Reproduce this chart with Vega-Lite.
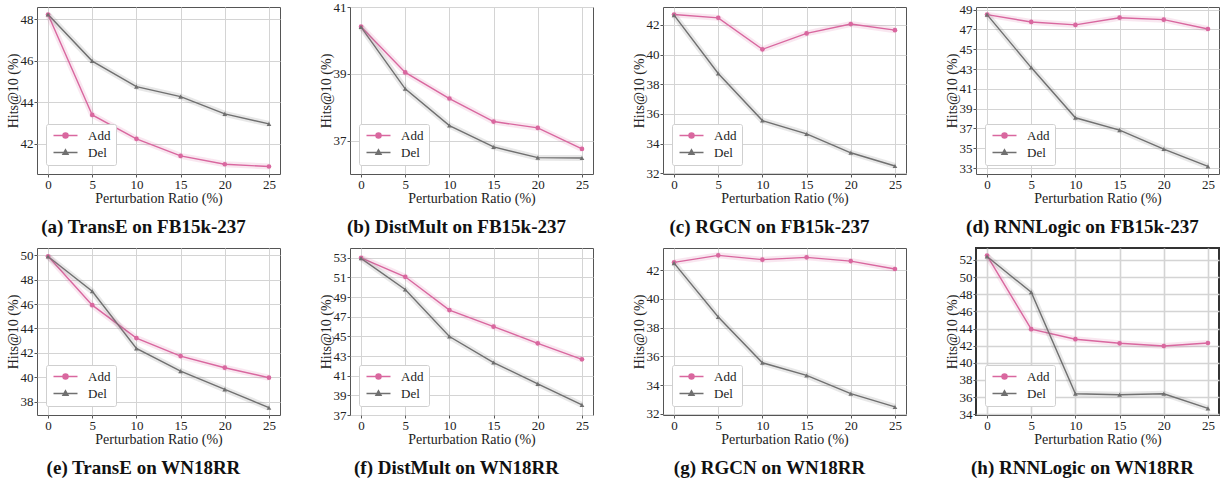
{
  "$schema": "https://vega.github.io/schema/vega-lite/v6.json",
  "padding": {"left": 5, "top": 0, "right": 1, "bottom": 0},
  "data": {"values": [
    {"p":"a","s":"Add","r":0,"v":48.22},{"p":"a","s":"Add","r":5,"v":43.39},{"p":"a","s":"Add","r":10,"v":42.24},{"p":"a","s":"Add","r":15,"v":41.42},{"p":"a","s":"Add","r":20,"v":41.02},{"p":"a","s":"Add","r":25,"v":40.91},
    {"p":"a","s":"Del","r":0,"v":48.22},{"p":"a","s":"Del","r":5,"v":45.98},{"p":"a","s":"Del","r":10,"v":44.75},{"p":"a","s":"Del","r":15,"v":44.27},{"p":"a","s":"Del","r":20,"v":43.44},{"p":"a","s":"Del","r":25,"v":42.96},
    {"p":"b","s":"Add","r":0,"v":40.41},{"p":"b","s":"Add","r":5,"v":39.04},{"p":"b","s":"Add","r":10,"v":38.26},{"p":"b","s":"Add","r":15,"v":37.57},{"p":"b","s":"Add","r":20,"v":37.38},{"p":"b","s":"Add","r":25,"v":36.75},
    {"p":"b","s":"Del","r":0,"v":40.40},{"p":"b","s":"Del","r":5,"v":38.55},{"p":"b","s":"Del","r":10,"v":37.45},{"p":"b","s":"Del","r":15,"v":36.81},{"p":"b","s":"Del","r":20,"v":36.49},{"p":"b","s":"Del","r":25,"v":36.48},
    {"p":"c","s":"Add","r":0,"v":42.69},{"p":"c","s":"Add","r":5,"v":42.47},{"p":"c","s":"Add","r":10,"v":40.35},{"p":"c","s":"Add","r":15,"v":41.42},{"p":"c","s":"Add","r":20,"v":42.05},{"p":"c","s":"Add","r":25,"v":41.64},
    {"p":"c","s":"Del","r":0,"v":42.65},{"p":"c","s":"Del","r":5,"v":38.72},{"p":"c","s":"Del","r":10,"v":35.55},{"p":"c","s":"Del","r":15,"v":34.65},{"p":"c","s":"Del","r":20,"v":33.38},{"p":"c","s":"Del","r":25,"v":32.49},
    {"p":"d","s":"Add","r":0,"v":48.5},{"p":"d","s":"Add","r":5,"v":47.76},{"p":"d","s":"Add","r":10,"v":47.46},{"p":"d","s":"Add","r":15,"v":48.19},{"p":"d","s":"Add","r":20,"v":47.99},{"p":"d","s":"Add","r":25,"v":47.05},
    {"p":"d","s":"Del","r":0,"v":48.5},{"p":"d","s":"Del","r":5,"v":43.15},{"p":"d","s":"Del","r":10,"v":38.08},{"p":"d","s":"Del","r":15,"v":36.83},{"p":"d","s":"Del","r":20,"v":34.92},{"p":"d","s":"Del","r":25,"v":33.17},
    {"p":"e","s":"Add","r":0,"v":49.92},{"p":"e","s":"Add","r":5,"v":45.91},{"p":"e","s":"Add","r":10,"v":43.21},{"p":"e","s":"Add","r":15,"v":41.73},{"p":"e","s":"Add","r":20,"v":40.78},{"p":"e","s":"Add","r":25,"v":39.96},
    {"p":"e","s":"Del","r":0,"v":49.9},{"p":"e","s":"Del","r":5,"v":47.05},{"p":"e","s":"Del","r":10,"v":42.36},{"p":"e","s":"Del","r":15,"v":40.5},{"p":"e","s":"Del","r":20,"v":39.0},{"p":"e","s":"Del","r":25,"v":37.5},
    {"p":"f","s":"Add","r":0,"v":53.0},{"p":"f","s":"Add","r":5,"v":51.07},{"p":"f","s":"Add","r":10,"v":47.68},{"p":"f","s":"Add","r":15,"v":45.99},{"p":"f","s":"Add","r":20,"v":44.3},{"p":"f","s":"Add","r":25,"v":42.67},
    {"p":"f","s":"Del","r":0,"v":52.95},{"p":"f","s":"Del","r":5,"v":49.78},{"p":"f","s":"Del","r":10,"v":44.99},{"p":"f","s":"Del","r":15,"v":42.34},{"p":"f","s":"Del","r":20,"v":40.17},{"p":"f","s":"Del","r":25,"v":38.03},
    {"p":"g","s":"Add","r":0,"v":42.53},{"p":"g","s":"Add","r":5,"v":43.02},{"p":"g","s":"Add","r":10,"v":42.72},{"p":"g","s":"Add","r":15,"v":42.88},{"p":"g","s":"Add","r":20,"v":42.62},{"p":"g","s":"Add","r":25,"v":42.07},
    {"p":"g","s":"Del","r":0,"v":42.48},{"p":"g","s":"Del","r":5,"v":38.73},{"p":"g","s":"Del","r":10,"v":35.55},{"p":"g","s":"Del","r":15,"v":34.67},{"p":"g","s":"Del","r":20,"v":33.4},{"p":"g","s":"Del","r":25,"v":32.48},
    {"p":"h","s":"Add","r":0,"v":52.51},{"p":"h","s":"Add","r":5,"v":43.92},{"p":"h","s":"Add","r":10,"v":42.75},{"p":"h","s":"Add","r":15,"v":42.27},{"p":"h","s":"Add","r":20,"v":41.96},{"p":"h","s":"Add","r":25,"v":42.31},
    {"p":"h","s":"Del","r":0,"v":52.4},{"p":"h","s":"Del","r":5,"v":48.23},{"p":"h","s":"Del","r":10,"v":36.38},{"p":"h","s":"Del","r":15,"v":36.27},{"p":"h","s":"Del","r":20,"v":36.38},{"p":"h","s":"Del","r":25,"v":34.67}
  ]},
  "spacing": 4,
  "resolve": {"scale": {"color": "independent"}, "legend": {"color": "independent"}},
  "vconcat": [
    {
      "spacing": 36,
      "resolve": {"scale": {"color": "independent"}, "legend": {"color": "independent"}},
      "hconcat": [
        {
          "width": 243, "height": 167,
          "title": {"text": "(a) TransE on FB15k-237"},
          "transform": [{"filter": "datum.p == 'a'"}],
          "encoding": {
            "x": {"field": "r", "type": "quantitative", "scale": {"domain": [-1.25, 26.25], "nice": false}, "axis": {"values": [0,5,10,15,20,25], "title": "Perturbation Ratio (%)"}},
            "y": {"field": "v", "type": "quantitative", "scale": {"domain": [40.55, 48.58], "nice": false, "zero": false}, "axis": {"values": [42,44,46,48], "title": "Hits@10 (%)"}},
            "color": {"field": "s", "type": "nominal", "scale": {"domain": ["Add","Del"], "range": ["#d9679f","#707070"]}}
          },
          "layer": [
            {"mark": {"type": "line", "strokeWidth": 1.4},
             "encoding": {"color": {"field": "s", "type": "nominal", "scale": {"domain": ["Add","Del"], "range": ["#d9679f","#707070"]},
               "legend": {"encode": {"symbols": {"update": {
                 "shape": {"signal": "datum.value === 'Add' ? 'M-2.4,0L2.4,0M-0.5,0A0.5,0.5,0,1,1,0.5,0A0.5,0.5,0,1,1,-0.5,0Z' : 'M-2.4,0L2.4,0M0,-0.55L0.5,0.35L-0.5,0.35Z'"},
                 "fill": {"signal": "datum.value === 'Add' ? '#d9679f' : '#707070'"},
                 "stroke": {"signal": "datum.value === 'Add' ? '#d9679f' : '#707070'"},
                 "strokeWidth": {"value": 1.5}, "opacity": {"value": 1}}}}}}}},
            {"mark": {"type": "line", "strokeWidth": 6, "opacity": 0.16}},
            {"transform": [{"filter": "datum.s == 'Add'"}], "mark": {"type": "point", "filled": true, "size": 22, "opacity": 1, "shape": "circle"}},
            {"transform": [{"filter": "datum.s == 'Del'"}], "mark": {"type": "point", "filled": true, "size": 22, "opacity": 1, "shape": "triangle-up"}}
          ]
        },
        {
          "width": 243, "height": 167,
          "title": {"text": "(b) DistMult on FB15k-237"},
          "transform": [{"filter": "datum.p == 'b'"}],
          "encoding": {
            "x": {"field": "r", "type": "quantitative", "scale": {"domain": [-1.25, 26.25], "nice": false}, "axis": {"values": [0,5,10,15,20,25], "title": "Perturbation Ratio (%)"}},
            "y": {"field": "v", "type": "quantitative", "scale": {"domain": [36.0, 41.0], "nice": false, "zero": false}, "axis": {"values": [37,39,41], "title": "Hits@10 (%)"}},
            "color": {"field": "s", "type": "nominal", "scale": {"domain": ["Add","Del"], "range": ["#d9679f","#707070"]}}
          },
          "layer": [
            {"mark": {"type": "line", "strokeWidth": 1.4},
             "encoding": {"color": {"field": "s", "type": "nominal", "scale": {"domain": ["Add","Del"], "range": ["#d9679f","#707070"]},
               "legend": {"encode": {"symbols": {"update": {
                 "shape": {"signal": "datum.value === 'Add' ? 'M-2.4,0L2.4,0M-0.5,0A0.5,0.5,0,1,1,0.5,0A0.5,0.5,0,1,1,-0.5,0Z' : 'M-2.4,0L2.4,0M0,-0.55L0.5,0.35L-0.5,0.35Z'"},
                 "fill": {"signal": "datum.value === 'Add' ? '#d9679f' : '#707070'"},
                 "stroke": {"signal": "datum.value === 'Add' ? '#d9679f' : '#707070'"},
                 "strokeWidth": {"value": 1.5}, "opacity": {"value": 1}}}}}}}},
            {"mark": {"type": "line", "strokeWidth": 6, "opacity": 0.16}},
            {"transform": [{"filter": "datum.s == 'Add'"}], "mark": {"type": "point", "filled": true, "size": 22, "opacity": 1, "shape": "circle"}},
            {"transform": [{"filter": "datum.s == 'Del'"}], "mark": {"type": "point", "filled": true, "size": 22, "opacity": 1, "shape": "triangle-up"}}
          ]
        },
        {
          "width": 243, "height": 167,
          "title": {"text": "(c) RGCN on FB15k-237"},
          "transform": [{"filter": "datum.p == 'c'"}],
          "encoding": {
            "x": {"field": "r", "type": "quantitative", "scale": {"domain": [-1.25, 26.25], "nice": false}, "axis": {"values": [0,5,10,15,20,25], "title": "Perturbation Ratio (%)"}},
            "y": {"field": "v", "type": "quantitative", "scale": {"domain": [31.95, 43.2], "nice": false, "zero": false}, "axis": {"values": [32,34,36,38,40,42], "title": "Hits@10 (%)"}},
            "color": {"field": "s", "type": "nominal", "scale": {"domain": ["Add","Del"], "range": ["#d9679f","#707070"]}}
          },
          "layer": [
            {"mark": {"type": "line", "strokeWidth": 1.4},
             "encoding": {"color": {"field": "s", "type": "nominal", "scale": {"domain": ["Add","Del"], "range": ["#d9679f","#707070"]},
               "legend": {"encode": {"symbols": {"update": {
                 "shape": {"signal": "datum.value === 'Add' ? 'M-2.4,0L2.4,0M-0.5,0A0.5,0.5,0,1,1,0.5,0A0.5,0.5,0,1,1,-0.5,0Z' : 'M-2.4,0L2.4,0M0,-0.55L0.5,0.35L-0.5,0.35Z'"},
                 "fill": {"signal": "datum.value === 'Add' ? '#d9679f' : '#707070'"},
                 "stroke": {"signal": "datum.value === 'Add' ? '#d9679f' : '#707070'"},
                 "strokeWidth": {"value": 1.5}, "opacity": {"value": 1}}}}}}}},
            {"mark": {"type": "line", "strokeWidth": 6, "opacity": 0.16}},
            {"transform": [{"filter": "datum.s == 'Add'"}], "mark": {"type": "point", "filled": true, "size": 22, "opacity": 1, "shape": "circle"}},
            {"transform": [{"filter": "datum.s == 'Del'"}], "mark": {"type": "point", "filled": true, "size": 22, "opacity": 1, "shape": "triangle-up"}}
          ]
        },
        {
          "width": 243, "height": 167,
          "title": {"text": "(d) RNNLogic on FB15k-237"},
          "transform": [{"filter": "datum.p == 'd'"}],
          "encoding": {
            "x": {"field": "r", "type": "quantitative", "scale": {"domain": [-1.25, 26.25], "nice": false}, "axis": {"values": [0,5,10,15,20,25], "title": "Perturbation Ratio (%)"}},
            "y": {"field": "v", "type": "quantitative", "scale": {"domain": [32.4, 49.27], "nice": false, "zero": false}, "axis": {"values": [33,35,37,39,41,43,45,47,49], "title": "Hits@10 (%)"}},
            "color": {"field": "s", "type": "nominal", "scale": {"domain": ["Add","Del"], "range": ["#d9679f","#707070"]}}
          },
          "layer": [
            {"mark": {"type": "line", "strokeWidth": 1.4},
             "encoding": {"color": {"field": "s", "type": "nominal", "scale": {"domain": ["Add","Del"], "range": ["#d9679f","#707070"]},
               "legend": {"encode": {"symbols": {"update": {
                 "shape": {"signal": "datum.value === 'Add' ? 'M-2.4,0L2.4,0M-0.5,0A0.5,0.5,0,1,1,0.5,0A0.5,0.5,0,1,1,-0.5,0Z' : 'M-2.4,0L2.4,0M0,-0.55L0.5,0.35L-0.5,0.35Z'"},
                 "fill": {"signal": "datum.value === 'Add' ? '#d9679f' : '#707070'"},
                 "stroke": {"signal": "datum.value === 'Add' ? '#d9679f' : '#707070'"},
                 "strokeWidth": {"value": 1.5}, "opacity": {"value": 1}}}}}}}},
            {"mark": {"type": "line", "strokeWidth": 6, "opacity": 0.16}},
            {"transform": [{"filter": "datum.s == 'Add'"}], "mark": {"type": "point", "filled": true, "size": 22, "opacity": 1, "shape": "circle"}},
            {"transform": [{"filter": "datum.s == 'Del'"}], "mark": {"type": "point", "filled": true, "size": 22, "opacity": 1, "shape": "triangle-up"}}
          ]
        }
      ]
    },
    {
      "spacing": 36,
      "resolve": {"scale": {"color": "independent"}, "legend": {"color": "independent"}},
      "hconcat": [
        {
          "width": 243, "height": 167,
          "title": {"text": "(e) TransE on WN18RR"},
          "transform": [{"filter": "datum.p == 'e'"}],
          "encoding": {
            "x": {"field": "r", "type": "quantitative", "scale": {"domain": [-1.25, 26.25], "nice": false}, "axis": {"values": [0,5,10,15,20,25], "title": "Perturbation Ratio (%)"}},
            "y": {"field": "v", "type": "quantitative", "scale": {"domain": [36.9, 50.6], "nice": false, "zero": false}, "axis": {"values": [38,40,42,44,46,48,50], "title": "Hits@10 (%)"}},
            "color": {"field": "s", "type": "nominal", "scale": {"domain": ["Add","Del"], "range": ["#d9679f","#707070"]}}
          },
          "layer": [
            {"mark": {"type": "line", "strokeWidth": 1.4},
             "encoding": {"color": {"field": "s", "type": "nominal", "scale": {"domain": ["Add","Del"], "range": ["#d9679f","#707070"]},
               "legend": {"encode": {"symbols": {"update": {
                 "shape": {"signal": "datum.value === 'Add' ? 'M-2.4,0L2.4,0M-0.5,0A0.5,0.5,0,1,1,0.5,0A0.5,0.5,0,1,1,-0.5,0Z' : 'M-2.4,0L2.4,0M0,-0.55L0.5,0.35L-0.5,0.35Z'"},
                 "fill": {"signal": "datum.value === 'Add' ? '#d9679f' : '#707070'"},
                 "stroke": {"signal": "datum.value === 'Add' ? '#d9679f' : '#707070'"},
                 "strokeWidth": {"value": 1.5}, "opacity": {"value": 1}}}}}}}},
            {"mark": {"type": "line", "strokeWidth": 6, "opacity": 0.16}},
            {"transform": [{"filter": "datum.s == 'Add'"}], "mark": {"type": "point", "filled": true, "size": 22, "opacity": 1, "shape": "circle"}},
            {"transform": [{"filter": "datum.s == 'Del'"}], "mark": {"type": "point", "filled": true, "size": 22, "opacity": 1, "shape": "triangle-up"}}
          ]
        },
        {
          "width": 243, "height": 167,
          "title": {"text": "(f) DistMult on WN18RR"},
          "transform": [{"filter": "datum.p == 'f'"}],
          "encoding": {
            "x": {"field": "r", "type": "quantitative", "scale": {"domain": [-1.25, 26.25], "nice": false}, "axis": {"values": [0,5,10,15,20,25], "title": "Perturbation Ratio (%)"}},
            "y": {"field": "v", "type": "quantitative", "scale": {"domain": [37.0, 54.0], "nice": false, "zero": false}, "axis": {"values": [37,39,41,43,45,47,49,51,53], "title": "Hits@10 (%)"}},
            "color": {"field": "s", "type": "nominal", "scale": {"domain": ["Add","Del"], "range": ["#d9679f","#707070"]}}
          },
          "layer": [
            {"mark": {"type": "line", "strokeWidth": 1.4},
             "encoding": {"color": {"field": "s", "type": "nominal", "scale": {"domain": ["Add","Del"], "range": ["#d9679f","#707070"]},
               "legend": {"encode": {"symbols": {"update": {
                 "shape": {"signal": "datum.value === 'Add' ? 'M-2.4,0L2.4,0M-0.5,0A0.5,0.5,0,1,1,0.5,0A0.5,0.5,0,1,1,-0.5,0Z' : 'M-2.4,0L2.4,0M0,-0.55L0.5,0.35L-0.5,0.35Z'"},
                 "fill": {"signal": "datum.value === 'Add' ? '#d9679f' : '#707070'"},
                 "stroke": {"signal": "datum.value === 'Add' ? '#d9679f' : '#707070'"},
                 "strokeWidth": {"value": 1.5}, "opacity": {"value": 1}}}}}}}},
            {"mark": {"type": "line", "strokeWidth": 6, "opacity": 0.16}},
            {"transform": [{"filter": "datum.s == 'Add'"}], "mark": {"type": "point", "filled": true, "size": 22, "opacity": 1, "shape": "circle"}},
            {"transform": [{"filter": "datum.s == 'Del'"}], "mark": {"type": "point", "filled": true, "size": 22, "opacity": 1, "shape": "triangle-up"}}
          ]
        },
        {
          "width": 243, "height": 167,
          "title": {"text": "(g) RGCN on WN18RR"},
          "transform": [{"filter": "datum.p == 'g'"}],
          "encoding": {
            "x": {"field": "r", "type": "quantitative", "scale": {"domain": [-1.25, 26.25], "nice": false}, "axis": {"values": [0,5,10,15,20,25], "title": "Perturbation Ratio (%)"}},
            "y": {"field": "v", "type": "quantitative", "scale": {"domain": [31.92, 43.53], "nice": false, "zero": false}, "axis": {"values": [32,34,36,38,40,42], "title": "Hits@10 (%)"}},
            "color": {"field": "s", "type": "nominal", "scale": {"domain": ["Add","Del"], "range": ["#d9679f","#707070"]}}
          },
          "layer": [
            {"mark": {"type": "line", "strokeWidth": 1.4},
             "encoding": {"color": {"field": "s", "type": "nominal", "scale": {"domain": ["Add","Del"], "range": ["#d9679f","#707070"]},
               "legend": {"encode": {"symbols": {"update": {
                 "shape": {"signal": "datum.value === 'Add' ? 'M-2.4,0L2.4,0M-0.5,0A0.5,0.5,0,1,1,0.5,0A0.5,0.5,0,1,1,-0.5,0Z' : 'M-2.4,0L2.4,0M0,-0.55L0.5,0.35L-0.5,0.35Z'"},
                 "fill": {"signal": "datum.value === 'Add' ? '#d9679f' : '#707070'"},
                 "stroke": {"signal": "datum.value === 'Add' ? '#d9679f' : '#707070'"},
                 "strokeWidth": {"value": 1.5}, "opacity": {"value": 1}}}}}}}},
            {"mark": {"type": "line", "strokeWidth": 6, "opacity": 0.16}},
            {"transform": [{"filter": "datum.s == 'Add'"}], "mark": {"type": "point", "filled": true, "size": 22, "opacity": 1, "shape": "circle"}},
            {"transform": [{"filter": "datum.s == 'Del'"}], "mark": {"type": "point", "filled": true, "size": 22, "opacity": 1, "shape": "triangle-up"}}
          ]
        },
        {
          "width": 243, "height": 167,
          "title": {"text": "(h) RNNLogic on WN18RR"},
          "view": {"stroke": "#333", "strokeWidth": 2},
          "transform": [{"filter": "datum.p == 'h'"}],
          "encoding": {
            "x": {"field": "r", "type": "quantitative", "scale": {"domain": [-1.25, 26.25], "nice": false}, "axis": {"values": [0,5,10,15,20,25], "title": "Perturbation Ratio (%)", "gridWidth": 1.6}},
            "y": {"field": "v", "type": "quantitative", "scale": {"domain": [33.9, 53.4], "nice": false, "zero": false}, "axis": {"values": [34,36,38,40,42,44,46,48,50,52], "title": "Hits@10 (%)", "gridWidth": 1.6}},
            "color": {"field": "s", "type": "nominal", "scale": {"domain": ["Add","Del"], "range": ["#d9679f","#707070"]}}
          },
          "layer": [
            {"mark": {"type": "line", "strokeWidth": 1.4},
             "encoding": {"color": {"field": "s", "type": "nominal", "scale": {"domain": ["Add","Del"], "range": ["#d9679f","#707070"]},
               "legend": {"encode": {"symbols": {"update": {
                 "shape": {"signal": "datum.value === 'Add' ? 'M-2.4,0L2.4,0M-0.5,0A0.5,0.5,0,1,1,0.5,0A0.5,0.5,0,1,1,-0.5,0Z' : 'M-2.4,0L2.4,0M0,-0.55L0.5,0.35L-0.5,0.35Z'"},
                 "fill": {"signal": "datum.value === 'Add' ? '#d9679f' : '#707070'"},
                 "stroke": {"signal": "datum.value === 'Add' ? '#d9679f' : '#707070'"},
                 "strokeWidth": {"value": 1.5}, "opacity": {"value": 1}}}}}}}},
            {"mark": {"type": "line", "strokeWidth": 6, "opacity": 0.16}},
            {"transform": [{"filter": "datum.s == 'Add'"}], "mark": {"type": "point", "filled": true, "size": 22, "opacity": 1, "shape": "circle"}},
            {"transform": [{"filter": "datum.s == 'Del'"}], "mark": {"type": "point", "filled": true, "size": 22, "opacity": 1, "shape": "triangle-up"}}
          ]
        }
      ]
    }
  ],
  "config": {
    "font": "Liberation Serif",
    "view": {"stroke": "#555", "strokeWidth": 1},
    "axis": {"labelFont": "Liberation Serif", "labelFontSize": 13, "labelColor": "#222", "titleFont": "Liberation Serif", "titleFontSize": 14, "titleFontWeight": "normal", "titleColor": "#222", "gridColor": "#d4d4d4", "gridWidth": 1, "domain": false, "tickColor": "#555", "tickSize": 3, "labelPadding": 1, "titlePadding": 0, "labelFlush": false, "labelOverlap": false},
    "axisX": {"labelAngle": 0},
    "legend": {"orient": "bottom-left", "offset": 9, "title": null, "strokeColor": "#cfcfcf", "fillColor": "white", "padding": 5, "cornerRadius": 2, "labelFont": "Liberation Serif", "labelFontSize": 13, "labelColor": "#222", "symbolSize": 100, "symbolOffset": 8, "labelOffset": 16, "rowPadding": 3},
    "title": {"orient": "bottom", "frame": "bounds", "font": "Liberation Serif", "fontSize": 19, "fontWeight": "bold", "color": "#111", "offset": 13, "anchor": "middle"}
  }
}
